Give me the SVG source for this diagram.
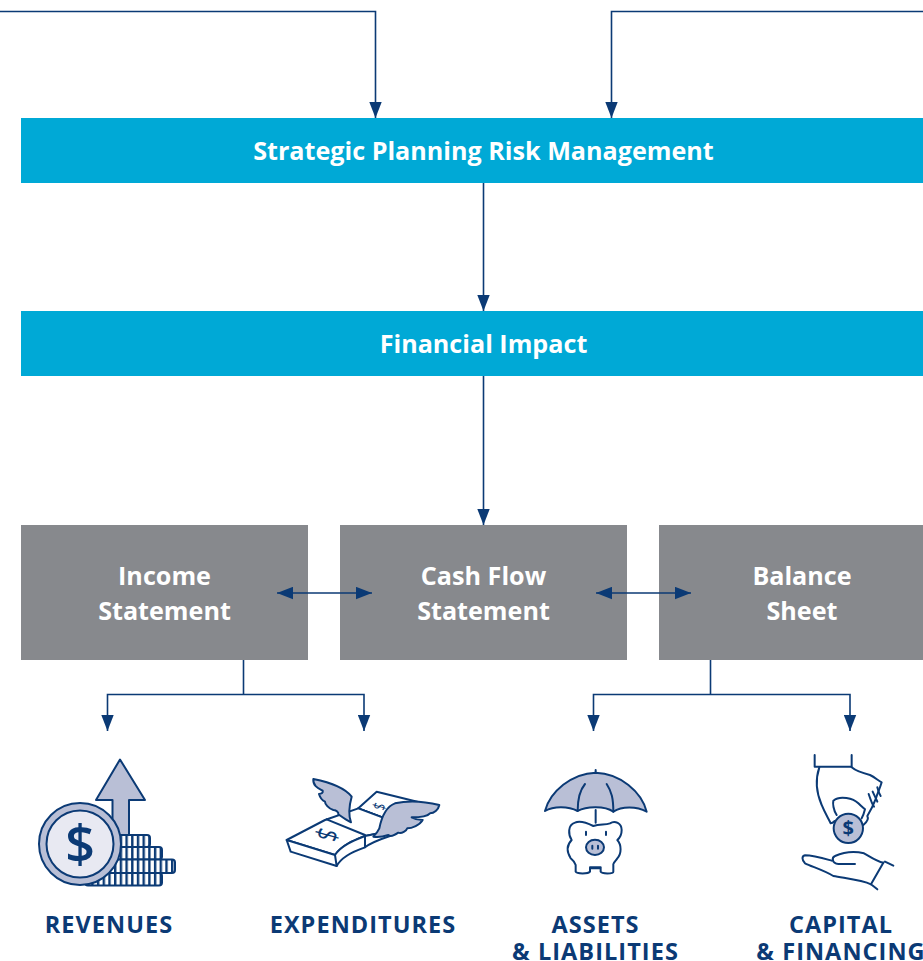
<svg xmlns="http://www.w3.org/2000/svg" width="923" height="961" viewBox="0 0 923 961">
<style>
.t{font-family:"Open Sans","Noto Sans",sans-serif;font-weight:700;text-anchor:middle}
.w{fill:#fff;font-size:25.15px}
.l{fill:#0b3a75;font-size:23.5px;letter-spacing:1.05px}
.c{fill:none;stroke:#0b3a75;stroke-width:1.6}
.i{fill:none;stroke:#0b3a75;stroke-width:6;stroke-linejoin:round;stroke-linecap:round}
.f{fill:#b9bfd6}
.p{fill:#e8e9f2}
.h{fill:#fff}
.d{fill:#0b3a75}
</style>
<defs>
<marker id="a" markerUnits="userSpaceOnUse" markerWidth="16" markerHeight="13" refX="16" refY="6.5" orient="auto-start-reverse"><path d="M0 .3L16 6.500L0 12.700Z" fill="#0b3a75"/></marker>
<pattern id="s" patternUnits="userSpaceOnUse" width="5.7" height="12"><rect width="5.7" height="12" fill="#fff"/><rect width="2.400" height="12" fill="#0b3a75"/></pattern>
</defs>
<g id="connectors">
<path class="c" d="M0 11.500H375.500V118" marker-end="url(#a)"/>
<path class="c" d="M923 11.500H611.500V118" marker-end="url(#a)"/>
<path class="c" d="M483.500 183V311" marker-end="url(#a)"/>
<path class="c" d="M483.500 376V525" marker-end="url(#a)"/>
<path class="c" d="M243.500 660V694.500"/>
<path class="c" d="M364 731V694.500H107.500V731" marker-end="url(#a)" marker-start="url(#a)"/>
<path class="c" d="M710.500 660V694.500"/>
<path class="c" d="M850 731V694.500H593.500V731" marker-end="url(#a)" marker-start="url(#a)"/>
</g>
<g id="strategic"><rect x="21" y="118" width="902" height="65" fill="#00a9d6"/><text class="t w" x="483.500" y="160">Strategic Planning Risk Management</text></g>
<g id="financial"><rect x="21" y="311" width="902" height="65" fill="#00a9d6"/><text class="t w" x="483.500" y="353">Financial Impact</text></g>
<g id="income"><rect x="21" y="525" width="287" height="135" fill="#87898d"/><text class="t w" x="164.500" y="585">Income</text><text class="t w" x="164.500" y="620">Statement</text></g>
<g id="cashflow"><rect x="340" y="525" width="287" height="135" fill="#87898d"/><text class="t w" x="483.500" y="585">Cash Flow</text><text class="t w" x="483.500" y="620">Statement</text></g>
<g id="balance"><rect x="659" y="525" width="264" height="135" fill="#87898d"/><text class="t w" x="802" y="585">Balance</text><text class="t w" x="802" y="620">Sheet</text></g>
<g id="double-arrows">
<path class="c" d="M277 593H372" marker-end="url(#a)" marker-start="url(#a)"/>
<path class="c" d="M596 593H691" marker-end="url(#a)" marker-start="url(#a)"/>
</g>
<g id="revenues">
<path d="M120 759.500L145 800H129V836H112.500V800H96Z" class="f" stroke="#0b3a75" stroke-width="2" stroke-linejoin="round"/>
<g stroke="#0b3a75" stroke-width="2" fill="url(#s)">
<rect x="100" y="835" width="50" height="12" rx="3"/>
<rect x="100" y="847" width="62" height="12.500" rx="3"/>
<rect x="100" y="859.500" width="75" height="13.500" rx="3"/>
<rect x="85" y="873" width="77" height="12.500" rx="3"/>
</g>
<circle cx="80" cy="844" r="41" class="f" stroke="#0b3a75" stroke-width="2"/>
<circle cx="80" cy="844" r="33.500" class="p" stroke="#0b3a75" stroke-width="2"/>
<text class="t" x="80" y="863" style="font-size:52px;font-weight:600;fill:#0b3a75">$</text>
</g>
<g id="expenditures" transform="translate(270 760) scale(.3333)">
<path class="i h" d="M265 145L320 95L442 125V150L345 175Z"/>
<path class="i" d="M265 145L345 175"/>
<text class="t d" transform="translate(328 140) rotate(106) scale(.7 1)" y="18" style="font-size:50px;font-weight:400">$</text>
<path class="i h" d="M50 240L165 180L265 145L345 175L350 215L285 228C255 240 215 255 195 285Z"/>
<path class="i h" d="M50 240L195 285C215 255 255 240 285 228L350 215L360 228C330 238 300 250 285 262C255 272 215 290 200 318L62 275Z"/>
<path class="i" d="M195 285L200 318M285 228V262M170 178L285 225"/>
<text class="t d" transform="translate(170 225) rotate(106) scale(.7 1)" y="30" style="font-size:88px;font-weight:400">$</text>
<path class="i f" d="M130 57C170 65 222 80 245 110C238 135 235 165 243 187C228 180 215 170 205 163C207 155 195 150 190 150C175 145 165 132 165 125C158 122 150 112 147 102C155 102 160 98 158 92C145 85 128 78 130 57Z"/>
<path class="i f" d="M508 135C480 128 425 118 375 130C348 140 335 170 328 205C322 218 315 225 310 230C325 233 340 230 355 225C362 232 375 225 385 218C395 222 410 212 412 205C425 205 450 195 458 180C445 180 432 176 425 172C445 172 470 172 480 160C492 160 505 150 508 135Z"/>
</g>
<g id="assets" transform="translate(530 760) scale(.3333)">
<path class="i f" d="M45 153C60 95 125 40 197 38C270 40 335 95 350 155C320 138 275 138 250 155C225 138 170 138 143 153C115 138 70 138 45 153Z"/>
<path class="i" d="M143 153C143 115 150 90 165 72M250 155C250 115 245 95 230 72M197 30V38M197 150V188"/>
<path class="i h" d="M135 188C150 180 170 188 190 198C210 192 225 195 240 190C255 180 275 190 275 210C275 225 268 235 262 240C275 255 275 280 262 295C255 305 248 310 250 315V335C250 342 215 342 212 335V325H180V335C175 342 140 342 137 335V315C135 305 128 300 122 295C110 275 110 255 125 240C115 225 112 195 135 188Z"/>
<path class="i" d="M168 215V225M228 215V225M180 322H212"/>
<ellipse cx="195" cy="262" rx="27" ry="23" class="i f"/>
<path class="i" d="M187 257V266M204 257V266"/>
</g>
<g id="capital" transform="translate(790 750) scale(.3333)">
<path class="i" d="M74 15V50H185V15"/>
<path class="i" d="M88 52C75 90 80 130 95 165C105 190 115 205 122 220C125 220 130 217 134 213"/>
<path class="i" d="M185 52C200 65 220 70 240 75C255 82 265 92 275 97C270 115 262 130 258 145C250 165 240 185 232 198C236 205 232 215 220 225"/>
<path class="i" d="M236 132C242 150 248 165 252 170M248 125C255 140 260 150 262 155M262 112C265 125 270 135 272 138"/>
<path class="i" d="M140 195C130 180 128 160 130 152C150 135 190 145 205 160C215 170 222 175 225 178C222 190 218 200 215 205"/>
<circle cx="175" cy="235" r="44" class="i f"/>
<text class="t" x="175" y="256" style="font-size:60px;fill:#0b3a75">$</text>
<path class="i" d="M280 338L243 403M285 335L310 347M243 403L262 418"/>
<path class="i" d="M195 342H145C125 340 125 322 135 318C165 305 200 305 222 310C240 320 260 335 280 338M243 403C215 390 165 385 130 378C100 360 65 350 45 340C35 330 35 318 45 316C70 316 100 325 125 332"/>
</g>
<g id="labels">
<text class="t l" x="109" y="933">REVENUES</text>
<text class="t l" x="363" y="933">EXPENDITURES</text>
<text class="t l" x="595.500" y="933">ASSETS</text>
<text class="t l" x="595.500" y="959.500">&amp; LIABILITIES</text>
<text class="t l" x="841" y="933">CAPITAL</text>
<text class="t l" x="841" y="959.500">&amp; FINANCING</text>
</g>
</svg>
